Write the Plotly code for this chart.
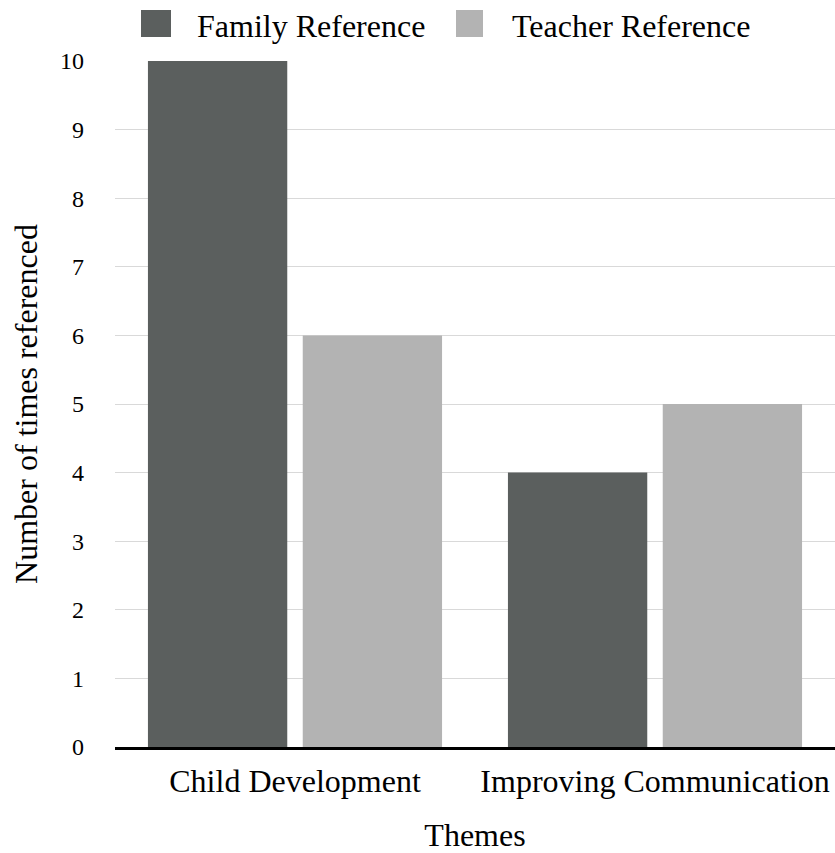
import plotly.graph_objects as go

# ---- data ----
categories = ["Child Development", "Improving Communication"]
series_names = ["Family Reference", "Teacher Reference"]
family_values = [10, 4]
teacher_values = [6, 5]
y_ticks = list(range(0, 11))

colors = ["#5b5f5e", "#b3b3b3"]
FONT = "'Liberation Serif', 'Times New Roman', Times, serif"

W, H = 835, 853
L, R, T, B = 115, 0, 61, 106
pw, ph = W - L - R, H - T - B

def px_x(p):
    return (p - L) / pw

def px_y(p):
    return (H - B - p) / ph

fig = go.Figure()
for name, vals, col in zip(series_names, [family_values, teacher_values], colors):
    fig.add_trace(go.Bar(name=name, x=categories, y=vals, marker_color=col,
                         marker_line_width=0, showlegend=False))

# custom legend (large squares)
legend_sq = [(141, 171), (456, 483)]
legend_tx = [195, 510]
shapes = []
annotations = []
for (x0, x1), tx, name, col in zip(legend_sq, legend_tx, series_names, colors):
    shapes.append(dict(type="rect", xref="paper", yref="paper",
                       x0=px_x(x0), x1=px_x(x1), y0=px_y(37), y1=px_y(10),
                       fillcolor=col, line_width=0))
    annotations.append(dict(text=name, xref="paper", yref="paper",
                            x=px_x(tx), y=px_y(26), xanchor="left", yanchor="middle",
                            showarrow=False, font=dict(family=FONT, size=32, color="#000")))

fig.update_layout(
    width=W, height=H,
    margin=dict(l=L, r=R, t=T, b=B, autoexpand=False),
    paper_bgcolor="white", plot_bgcolor="white",
    barmode="group", bargap=0.14, bargroupgap=0.1,
    font=dict(family=FONT, color="#000"),
    shapes=shapes, annotations=annotations,
    showlegend=False,
)
fig.update_xaxes(
    showgrid=False, showline=True, linecolor="black", linewidth=3,
    tickfont=dict(family=FONT, size=32, color="#000"),
    ticklabelstandoff=4,
    title=dict(text="Themes", font=dict(family=FONT, size=32, color="#000"), standoff=33),
    automargin=False,
)
fig.update_yaxes(
    range=[0, 10], tickvals=y_ticks, ticktext=[str(v) for v in y_ticks],
    showgrid=True, gridcolor="#d9d9d9", gridwidth=1, zeroline=False, showline=False,
    tickfont=dict(family=FONT, size=24, color="#000"),
    ticklabelstandoff=30,
    title=dict(text="Number of times referenced", font=dict(family=FONT, size=32, color="#000"), standoff=12),
    automargin=False,
)

fig.write_html("out.html", config={"displayModeBar": False},
               post_script="document.body.style.margin='0';document.body.style.overflow='hidden';")
